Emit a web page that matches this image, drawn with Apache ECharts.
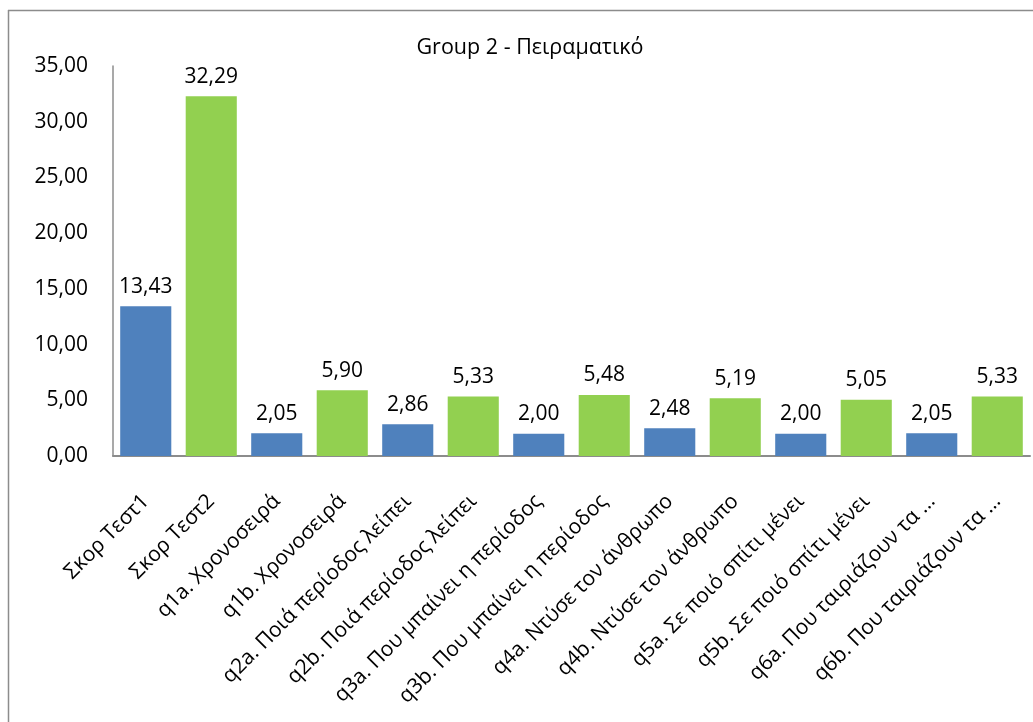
<!DOCTYPE html>
<html>
<head>
<meta charset="utf-8">
<script src="https://cdn.jsdelivr.net/npm/echarts@6/dist/echarts.min.js"></script>
<style>
  html, body { margin: 0; padding: 0; background: #ffffff; }
  #chart { width: 1033px; height: 722px; }
</style>
</head>
<body>
<div id="chart"></div>
<script>
// Question labels along the category axis
const categories = [
  'Σκορ Τεστ1',
  'Σκορ Τεστ2',
  'q1a. Χρονοσειρά',
  'q1b. Χρονοσειρά',
  'q2a. Ποιά περίοδος λείπει',
  'q2b. Ποιά περίοδος λείπει',
  'q3a. Που μπαίνει η περίοδος',
  'q3b. Που μπαίνει η περίοδος',
  'q4a. Ντύσε τον άνθρωπο',
  'q4b. Ντύσε τον άνθρωπο',
  'q5a. Σε ποιό σπίτι μένει',
  'q5b. Σε ποιό σπίτι μένει',
  'q6a. Που ταιριάζουν τα …',
  'q6b. Που ταιριάζουν τα …'
];

// Mean scores per item
const scores = [13.43, 32.29, 2.05, 5.90, 2.86, 5.33, 2.00, 5.48, 2.48, 5.19, 2.00, 5.05, 2.05, 5.33];

// Pre-test items (a) in blue, post-test items (b) in green
const barColors = ['#4F81BD', '#92D050'];

const yTicks = { min: 0, max: 35, interval: 5 };

const fmt = v => Number(v).toFixed(2).replace('.', ',');
const FONT = 'Open Sans, Noto Sans, sans-serif';

const chart = echarts.init(document.getElementById('chart'), null, { renderer: 'canvas' });

chart.setOption({
  animation: false,
  backgroundColor: '#ffffff',
  title: {
    text: 'Group 2 - Πειραματικό',
    left: 525,
    textAlign: 'center',
    top: 32,
    textStyle: { fontFamily: FONT, fontSize: 21.5, fontWeight: 'normal', color: '#000' }
  },
  graphic: [
    // surrounding chart frame
    { type: 'line', shape: { x1: 8.5, y1: 10, x2: 8.5, y2: 722 }, style: { stroke: '#8c8c8c', lineWidth: 1.5 } },
    { type: 'line', shape: { x1: 8, y1: 10.5, x2: 1033, y2: 10.5 }, style: { stroke: '#8c8c8c', lineWidth: 1.5 } }
  ],
  grid: { left: 113, right: 3, top: 66, bottom: 266, containLabel: false },
  xAxis: {
    type: 'category',
    data: categories,
    axisLine: { lineStyle: { color: '#8c8c8c', width: 2 } },
    axisTick: { show: false },
    axisLabel: {
      interval: 0,
      rotate: 45,
      margin: 42,
      fontFamily: FONT,
      fontSize: 21,
      color: '#000'
    }
  },
  yAxis: {
    type: 'value',
    min: yTicks.min,
    max: yTicks.max,
    interval: yTicks.interval,
    axisLine: { show: true, lineStyle: { color: '#8c8c8c', width: 1.5 } },
    axisTick: { show: false },
    splitLine: { show: false },
    axisLabel: {
      margin: 25,
      formatter: fmt,
      fontFamily: FONT,
      fontSize: 21,
      color: '#000'
    }
  },
  series: [{
    type: 'bar',
    barCategoryGap: '22%',
    data: scores.map((v, i) => ({ value: v, itemStyle: { color: barColors[i % 2] } })),
    label: {
      show: true,
      position: 'top',
      distance: 9,
      formatter: p => fmt(p.value),
      fontFamily: FONT,
      fontSize: 21,
      color: '#000'
    }
  }]
});
</script>
</body>
</html>
